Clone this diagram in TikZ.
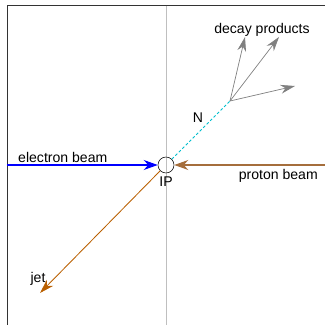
\documentclass[tikz,border=0pt]{standalone}
\usepackage{fontspec}
\setmainfont{Liberation Sans}
\usepackage{xcolor}
\usepackage{tikz}
\usetikzlibrary{positioning,arrows.meta,calc}
\definecolor{beamblue}{RGB}{0,0,255}
\definecolor{protonbrown}{RGB}{165,110,60}
\definecolor{jetorange}{RGB}{185,95,0}
\definecolor{ncyan}{RGB}{0,190,205}
\definecolor{decaygray}{RGB}{128,128,128}

\begin{document}
\begin{tikzpicture}[every node/.style={font=\normalsize, inner sep=1pt},
  beam/.style={-{Stealth[length=0.35cm, width=0.25cm]}, line width=0.8pt},
  track/.style={-{Stealth[length=0.36cm, width=0.22cm]}, line width=0.5pt}]
  \useasboundingbox (-4.15,-4.0) rectangle (3.95,4.125);
  \draw[line width=0.7pt, black!80] (-3.975,-4.3) rectangle (4.3,3.975);
  \draw[black!25, line width=0.4pt] (0,3.975) -- (0,-4.3);

  % interaction point
  \node[circle, draw, minimum size=0.4cm, inner sep=0pt] (ip) at (0,0) {};
  \node[below=1pt of ip] (iplabel) {IP};

  % beams
  \coordinate (estart) at (-3.975,0);
  \coordinate (pstart) at (3.975,0);
  \draw[beam, beamblue] (estart) -- node[above, pos=0.37, text=black] {electron beam} (ip.west);
  \draw[beam, protonbrown] (pstart) -- node[below=2pt, pos=0.31, text=black] {proton beam} (ip.east);

  % jet
  \coordinate (jetend) at (-3.15,-3.2);
  \draw[track, jetorange, line width=0.6pt] (ip.225) -- (jetend);
  \node (jet) at (-3.2,-2.85) {jet};

  % heavy neutrino and its decay
  \coordinate (vtx) at (1.6,1.6);
  \draw[ncyan, dashed, line width=0.6pt, dash pattern=on 2pt off 1.5pt] (ip.45) -- (vtx);
  \node (n) at (0.8,1.175) {N};
  \coordinate (d1) at (1.975,3.2);
  \coordinate (d2) at (2.825,3.2);
  \coordinate (d3) at (3.225,1.975);
  \draw[track, decaygray] (vtx) -- (d1);
  \draw[track, decaygray] (vtx) -- (d2);
  \draw[track, decaygray] (vtx) -- (d3);
  \node (decay) at (2.4,3.375) {decay products};
\end{tikzpicture}
\end{document}
